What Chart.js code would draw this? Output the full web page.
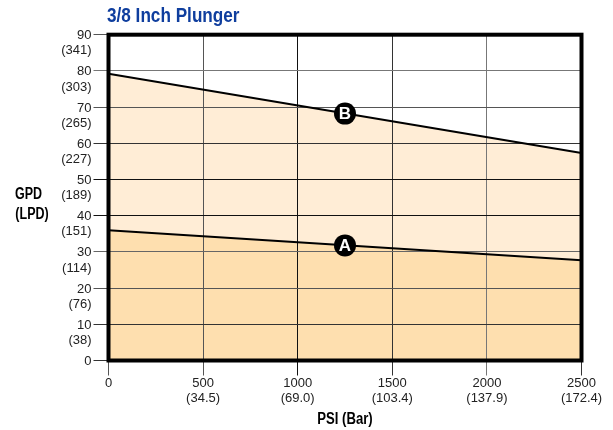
<!DOCTYPE html>
<html>
<head>
<meta charset="utf-8">
<style>html,body{margin:0;padding:0;background:#fff}canvas{display:block}</style>
<script src="https://cdn.jsdelivr.net/npm/chart.js@4"></script>
</head>
<body>
<canvas id="c" width="613" height="430"></canvas>
<script>
const pressure = [0, 2500];
const flowA = [36, 27.7];
const flowB = [79.2, 57.3];
const markerPressure = 1250;
const markerA = 31.8;
const markerB = 68.2;
const gpdTicks = [0, 10, 20, 30, 40, 50, 60, 70, 80, 90];
const lpdLabels = ["", "(38)", "(76)", "(114)", "(151)", "(189)", "(227)", "(265)", "(303)", "(341)"];
const psiTicks = [0, 500, 1000, 1500, 2000, 2500];
const barLabels = ["", "(34.5)", "(69.0)", "(103.4)", "(137.9)", "(172.4)"];
const yGridColors = ['#333', '#333', '#555', '#666', '#111', '#111', '#333', '#555', '#777', '#555'];
const xGridColors = ['#555', '#555', '#111', '#333', '#777', '#333'];
const titleText = "3/8 Inch Plunger";
const yTitle = ["GPD", "(LPD)"];
const xTitle = "PSI (Bar)";
const SANS = '"Liberation Sans",Arial,sans-serif';

function narrowText(ctx, text, x, y, squeeze) {
  ctx.save();
  ctx.translate(x, y);
  ctx.scale(squeeze, 1);
  ctx.fillText(text, 0, 0);
  ctx.restore();
}

const overlay = {
  id: 'overlay',
  afterDraw(chart) {
    const {ctx, chartArea: a} = chart;
    ctx.save();
    ctx.strokeStyle = '#000';
    ctx.lineWidth = 4;
    ctx.strokeRect(a.left, a.top, a.right - a.left, a.bottom - a.top);
    ctx.textBaseline = 'alphabetic';

    ctx.textAlign = 'left';
    ctx.fillStyle = '#0F3E9E';
    ctx.font = 'bold 19.5px ' + SANS;
    narrowText(ctx, titleText, 107, 22, 0.88);

    ctx.textAlign = 'center';
    ctx.fillStyle = '#000';
    ctx.font = 'bold 16px ' + SANS;
    narrowText(ctx, yTitle[0], 28.5, 199, 0.78);
    narrowText(ctx, yTitle[1], 32, 219, 0.78);
    narrowText(ctx, xTitle, 345, 424, 0.82);

    ctx.textBaseline = 'middle';
    ctx.fillStyle = '#fff';
    ctx.font = 'bold 17px ' + SANS;
    [[2, 'A'], [3, 'B']].forEach(([i, t]) => {
      const p = chart.getDatasetMeta(i).data[0];
      ctx.fillText(t, p.x, p.y + 0.5);
    });
    ctx.restore();
  }
};

new Chart(document.getElementById('c'), {
  type: 'line',
  data: {
    datasets: [
      { label: 'A', data: pressure.map((x, i) => ({x, y: flowA[i]})), borderColor: '#000', borderWidth: 2, pointRadius: 0, fill: 'origin', backgroundColor: '#FEDFAF' },
      { label: 'B', data: pressure.map((x, i) => ({x, y: flowB[i]})), borderColor: '#000', borderWidth: 2, pointRadius: 0, fill: 'origin', backgroundColor: '#FFEDD6' },
      { label: 'A marker', data: [{x: markerPressure, y: markerA}], pointRadius: 11, pointBackgroundColor: '#000', pointBorderWidth: 0, showLine: false, fill: false },
      { label: 'B marker', data: [{x: markerPressure, y: markerB}], pointRadius: 11, pointBackgroundColor: '#000', pointBorderWidth: 0, showLine: false, fill: false }
    ]
  },
  options: {
    responsive: false,
    animation: false,
    layout: { padding: { right: 31.5, left: 0, top: 34.7, bottom: 0 } },
    plugins: {
      legend: { display: false },
      tooltip: { enabled: false },
      filler: { drawTime: 'beforeDraw' }
    },
    scales: {
      x: {
        type: 'linear', min: 0, max: 2500,
        afterBuildTicks(s) { s.ticks = psiTicks.map(value => ({value})); },
        afterFit(s) { s.height = 69.5; },
        grid: { color: c => xGridColors[c.index], lineWidth: 1, tickLength: 15 },
        border: { display: false },
        ticks: {
          padding: 0, maxRotation: 0, autoSkip: false, color: '#222',
          font: { family: SANS, size: 13, lineHeight: 1.17 },
          callback(v) { const i = psiTicks.indexOf(v); return i === 0 ? String(v) : [String(v), barLabels[i]]; }
        }
      },
      y: {
        type: 'linear', min: 0, max: 90,
        afterBuildTicks(s) { s.ticks = gpdTicks.map(value => ({value})); },
        afterFit(s) { s.width = 108.5; },
        grid: { color: c => yGridColors[c.index], lineWidth: 1, tickLength: 15 },
        border: { display: false },
        ticks: {
          padding: 2, autoSkip: false, color: '#222', labelOffset: 1,
          font: { family: SANS, size: 13, lineHeight: 1.17 },
          callback(v) { const i = gpdTicks.indexOf(v); return i === 0 ? String(v) : ["", String(v), lpdLabels[i]]; }
        }
      }
    }
  },
  plugins: [overlay]
});
</script>
</body>
</html>
